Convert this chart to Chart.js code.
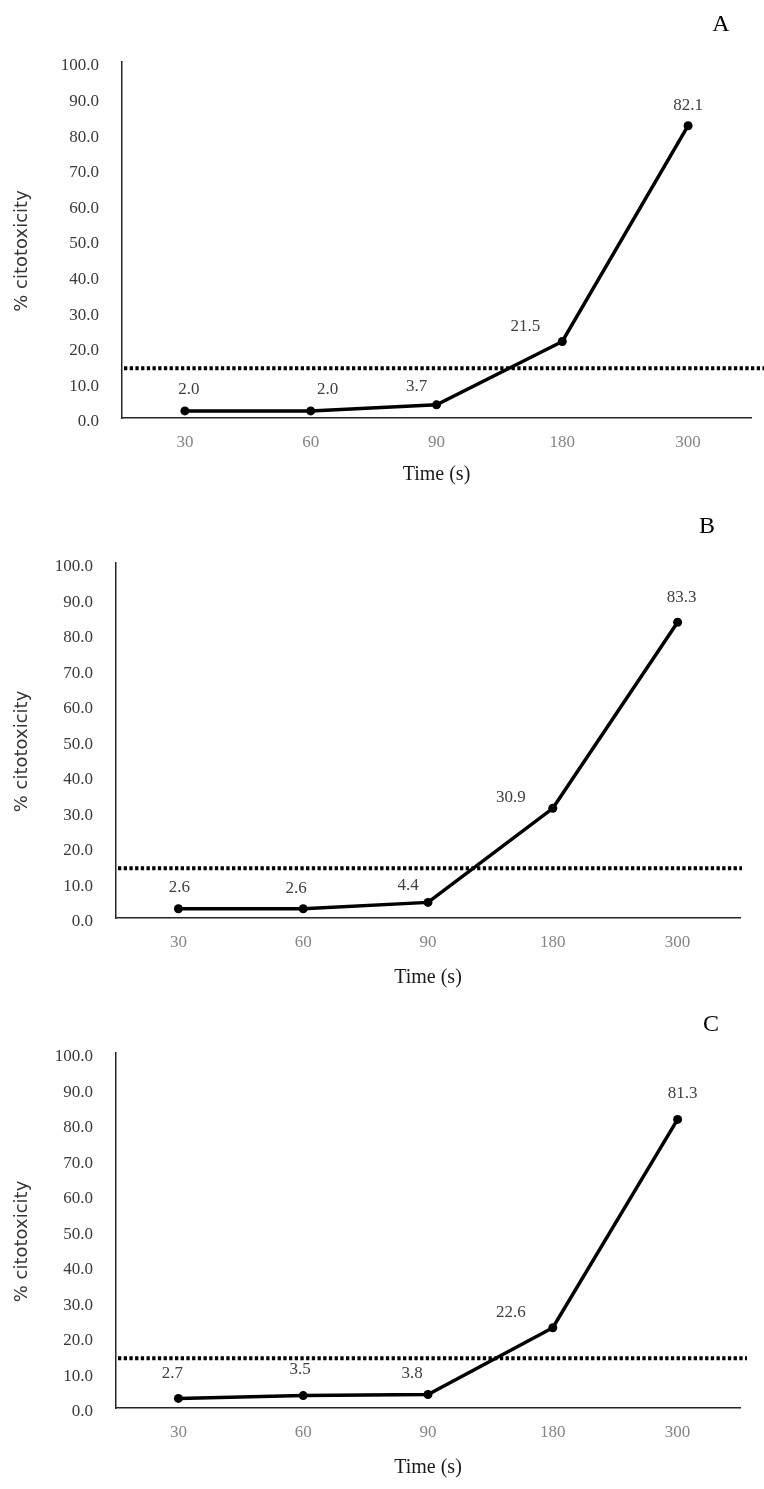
<!DOCTYPE html>
<html>
<head>
<meta charset="utf-8">
<script src="https://cdn.jsdelivr.net/npm/chart.js@4.4.1/dist/chart.umd.min.js"></script>
<style>
  html, body { margin: 0; padding: 0; background: #fff; }
  #wrap { position: relative; width: 764px; height: 1489px; }
  canvas { position: absolute; left: 0; }
</style>
</head>
<body>
<div id="wrap">
  <canvas id="chartA" width="764" height="500" style="top:0px"></canvas>
  <canvas id="chartB" width="764" height="490" style="top:500px"></canvas>
  <canvas id="chartC" width="764" height="499" style="top:990px"></canvas>
</div>
<script>
// data
const times = ['30', '60', '90', '180', '300'];
const citotoxA = [2.0, 2.0, 3.7, 21.5, 82.1];
const citotoxB = [2.6, 2.6, 4.4, 30.9, 83.3];
const citotoxC = [2.7, 3.5, 3.8, 22.6, 81.3];
const threshold = 14;
const yMin = 0, yMax = 100, yStep = 10;
const yTitle = '% citotoxicity';

// per panel layout (pixels inside each canvas)
const panels = [
  { id: 'chartA', letter: 'A', data: citotoxA, h: 500, left: 122, right: 751, top: 62, bottom: 418, titlePad: 13,
    lineEnd: 764, letterDx: -30, letterDy: -37,
    shift: [[4, -21], [17, -21], [-20, -18], [-37, -15], [0, -20]] },
  { id: 'chartB', letter: 'B', data: citotoxB, h: 490, left: 116, right: 740, top: 63, bottom: 418, titlePad: 10,
    lineEnd: 742, letterDx: -33, letterDy: -36,
    shift: [[1, -21], [-7, -20], [-20, -17], [-42, -11], [4, -25]] },
  { id: 'chartC', letter: 'C', data: citotoxC, h: 499, left: 116, right: 740, top: 63, bottom: 418, titlePad: 10,
    lineEnd: 747, letterDx: -29, letterDy: -28,
    shift: [[-6, -25], [-3, -26], [-16, -21], [-42, -15], [5, -26]] }
];

const serif = 'Liberation Serif';
const xAxisH = 82;

// dotted threshold, value labels, y title and panel letter
const extras = {
  id: 'extras',
  beforeDatasetsDraw(chart, args, opts) {
    const ctx = chart.ctx;
    const area = chart.chartArea;
    const ty = chart.scales.y.getPixelForValue(threshold);
    ctx.save();
    ctx.strokeStyle = '#000';
    ctx.lineWidth = 4;
    ctx.setLineDash([3.3, 2.4]);
    ctx.beginPath();
    ctx.moveTo(area.left + 2, ty);
    ctx.lineTo(opts.lineEnd, ty);
    ctx.stroke();
    ctx.restore();
  },
  afterDatasetsDraw(chart, args, opts) {
    const ctx = chart.ctx;
    const area = chart.chartArea;
    const meta = chart.getDatasetMeta(0);
    const vals = chart.data.datasets[0].data;
    ctx.save();
    ctx.font = '17px "' + serif + '"';
    ctx.fillStyle = '#404040';
    ctx.textAlign = 'center';
    ctx.textBaseline = 'middle';
    meta.data.forEach((pt, i) => {
      const s = opts.shift[i];
      ctx.fillText(vals[i].toFixed(1), pt.x + s[0], pt.y + s[1]);
    });
    ctx.font = '24px "' + serif + '"';
    ctx.fillStyle = '#000';
    ctx.fillText(opts.letter, area.right + opts.letterDx, area.top + opts.letterDy);
    // axis title, a little below the middle as in the figure
    ctx.translate(22, (area.top + area.bottom) / 2 + 11);
    ctx.rotate(-Math.PI / 2);
    ctx.font = '18px "DejaVu Sans"';
    ctx.fillStyle = '#333';
    ctx.fillText(yTitle, 0, 0);
    ctx.restore();
  }
};

panels.forEach(p => {
  const ctx = document.getElementById(p.id).getContext('2d');
  new Chart(ctx, {
    type: 'line',
    data: {
      labels: times,
      datasets: [{
        data: p.data,
        borderColor: '#000',
        backgroundColor: '#000',
        borderWidth: 3.5,
        pointRadius: 4.5,
        pointBackgroundColor: '#000',
        pointBorderWidth: 0,
        tension: 0,
        fill: false
      }]
    },
    options: {
      responsive: false,
      animation: false,
      devicePixelRatio: 1,
      layout: { padding: { top: p.top, right: 764 - p.right, bottom: p.h - p.bottom - xAxisH, left: 0 } },
      plugins: {
        legend: { display: false },
        tooltip: { enabled: false },
        extras: { letter: p.letter, lineEnd: p.lineEnd, letterDx: p.letterDx, letterDy: p.letterDy, shift: p.shift }
      },
      scales: {
        x: {
          offset: true,
          grid: { display: false, drawTicks: false },
          border: { display: true, color: '#262626', width: 1.5 },
          ticks: { color: '#858585', font: { family: serif, size: 17 }, padding: 14 },
          title: { display: true, text: 'Time (s)', color: '#1a1a1a',
                   font: { family: serif, size: 20 }, padding: { top: 0, bottom: p.titlePad } },
          afterFit: s => { s.height = xAxisH; }
        },
        y: {
          min: yMin,
          max: yMax,
          grid: { display: false, drawTicks: false },
          border: { display: true, color: '#262626', width: 1.5 },
          ticks: { stepSize: yStep, callback: v => v.toFixed(1), color: '#3a3a3a',
                   font: { family: serif, size: 17 }, padding: 23, labelOffset: 4 },
          afterFit: s => { s.width = p.left; }
        }
      }
    },
    plugins: [extras]
  });
});
</script>
</body>
</html>
